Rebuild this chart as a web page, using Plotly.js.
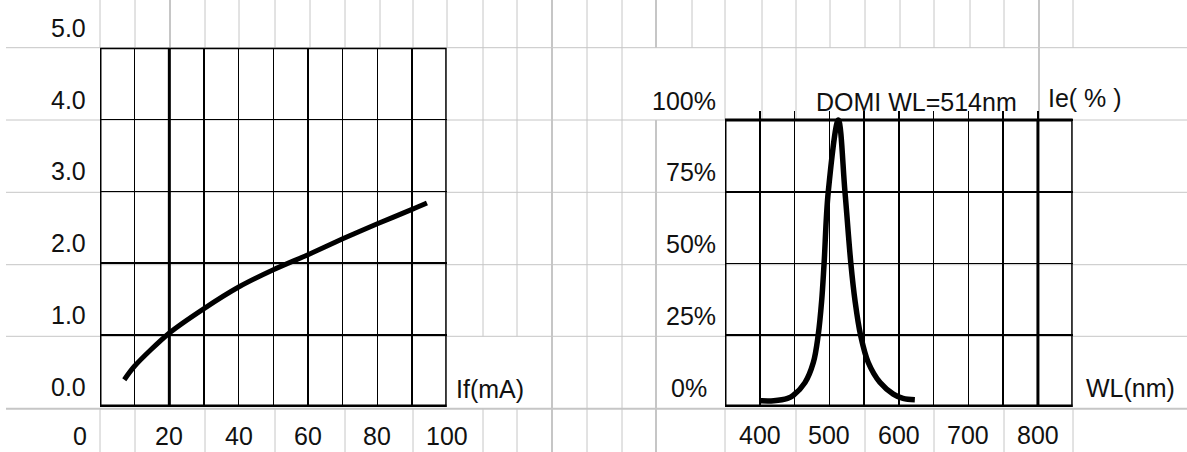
<!DOCTYPE html>
<html><head><meta charset="utf-8">
<script src="https://cdn.plot.ly/plotly-3.0.1.min.js"></script>
<style>html,body{margin:0;padding:0;background:#fff;overflow:hidden}#chart{width:1187px;height:452px;}</style>
</head><body><div id="chart"></div>
<script>
// ---- data ----
const currentTicks = [0, 20, 40, 60, 80, 100];
const currentTickLabels = ['0', '20', '40', '60', '80', '100'];
const intensityTicks = [0, 1, 2, 3, 4, 5];
const intensityTickLabels = ['0.0', '1.0', '2.0', '3.0', '4.0', '5.0'];
const forwardCurrent = [7, 10, 20, 30, 40, 50, 60, 70, 80, 90, 94.3];
const relIntensity = [0.38, 0.57, 1.03, 1.37, 1.67, 1.91, 2.12, 2.34, 2.55, 2.75, 2.84];

const wlTicks = [400, 500, 600, 700, 800];
const wlTickLabels = ['400', '500', '600', '700', '800'];
const pctTicks = [0, 0.25, 0.5, 0.75, 1];
const pctTickLabels = ['0%', '25%', '50%', '75%', '100%'];
const wavelength = [400, 420, 440, 448, 465, 477, 484, 489, 492.5, 498.5, 513, 522.5, 531, 537, 545, 556, 573, 592, 606, 623];
const spectrum = [0.022, 0.022, 0.03, 0.04, 0.085, 0.155, 0.25, 0.37, 0.5, 0.75, 1.0, 0.75, 0.5, 0.37, 0.25, 0.155, 0.085, 0.045, 0.03, 0.025];

const labelIf = 'If(mA)';
const labelWL = 'WL(nm)';
const labelIe = 'Ie( % )';
const labelDomi = 'DOMI WL=514nm';

// ---- layout helpers ----
const W = 1187, H = 452;
const px = x => x / W;
const py = y => 1 - y / H;
const FONT = {family: 'Liberation Sans, Arial, sans-serif', size: 25, color: '#111'};
const GRAY = '#c6c6c6';

// spreadsheet background grid
const shapes = [];
function gline(x0, y0, x1, y1, w) {
  shapes.push({type: 'line', xref: 'paper', yref: 'paper', layer: 'below',
    x0: px(x0), x1: px(x1), y0: py(y0), y1: py(y1), line: {color: GRAY, width: w || 1}});
}
const rowsY = [47.7, 120, 192.3, 264.7, 336.3, 408.7];
rowsY.forEach((y, i) => gline(6, y, W, y, i === 5 ? 2 : 1));
const thickCols = [170, 552, 656, 1039];
const topCols = [100,135,170,205,239,275,310,345,380,413,447,483,517,552,587,622,656,692,725,762,796,830,865,900,934,970,1004,1039,1073];
topCols.forEach(x => gline(x, 0, x, 47.7, thickCols.includes(x) ? 2 : 1));
[483, 517].forEach(x => gline(x, 47.7, x, 336.3));
[552, 587, 622].forEach(x => gline(x, 47.7, x, 408.7, x === 552 ? 2 : 1));
gline(656, 120, 656, 408.7, 2);
[725, 762, 796].forEach(x => gline(x, 47.7, x, 120));
gline(1039, 47.7, 1039, 120, 2);
[100,135,205,275,345,413,483,517,552,587,622,656,725,796,865,934,1004,1073].forEach(x => gline(x, 408.7, x, H, thickCols.includes(x) ? 2 : 1));

// chart frames
function frame(xr, yr, xa, xb, ya, yb, thickX) {
  shapes.push({type: 'rect', xref: xr, yref: yr, layer: 'between', x0: xa, x1: xb, y0: ya, y1: yb, line: {color: '#000', width: 3}});
  shapes.push({type: 'line', xref: xr, yref: yr, layer: 'between', x0: xa, x1: xb, y0: ya, y1: ya, line: {color: '#000', width: 5}});
  shapes.push({type: 'line', xref: xr, yref: yr, layer: 'between', x0: thickX, x1: thickX, y0: ya, y1: yb, line: {color: '#000', width: 3}});
}
frame('x', 'y', 0, 100, 0, 5, 20);
frame('x2', 'y2', 350, 850, 0, 1, 800);

// annotations
const ann = [];
function txt(o) { ann.push(Object.assign({showarrow: false, font: FONT, borderpad: 0}, o)); }
intensityTicks.forEach((v, i) => txt({xref: 'x domain', x: 0, xanchor: 'right', xshift: -13, yref: 'y', y: v, yanchor: 'middle', yshift: 20, text: intensityTickLabels[i]}));
currentTicks.forEach((v, i) => txt({xref: 'x', x: v, xanchor: 'center', xshift: i === 0 ? -20 : 0, yref: 'y', y: 0, yanchor: 'middle', yshift: -29, text: currentTickLabels[i]}));
pctTicks.forEach((v, i) => txt({xref: 'x2 domain', x: 0, xanchor: 'right', xshift: i === 0 ? -17 : -8, yref: 'y2', y: v, yanchor: 'middle', yshift: 19.5, text: pctTickLabels[i]}));
wlTicks.forEach((v, i) => txt({xref: 'x2', x: v, xanchor: 'center', yref: 'y2', y: 0, yanchor: 'middle', yshift: -28, text: wlTickLabels[i]}));
txt({xref: 'paper', x: px(455), xanchor: 'left', yref: 'paper', y: py(389), yanchor: 'middle', text: labelIf});
txt({xref: 'paper', x: px(1085), xanchor: 'left', yref: 'paper', y: py(388), yanchor: 'middle', text: labelWL});
txt({xref: 'paper', x: px(916.7), xanchor: 'center', yref: 'paper', y: py(101.5), yanchor: 'middle', text: labelDomi});
txt({xref: 'paper', x: px(1047), xanchor: 'left', yref: 'paper', y: py(98), yanchor: 'middle', text: labelIe});

const axBase = {showgrid: true, gridcolor: '#000', gridwidth: 1.6, zeroline: false, showticklabels: false, ticks: '', showline: false, fixedrange: true};
const layout = {
  width: W, height: H, margin: {l: 0, r: 0, t: 0, b: 0, pad: 0},
  paper_bgcolor: '#fff', plot_bgcolor: 'rgba(0,0,0,0)', showlegend: false,
  xaxis: Object.assign({}, axBase, {domain: [px(100), px(446.7)], range: [0, 100], tick0: 0, dtick: 10, anchor: 'y'}),
  yaxis: Object.assign({}, axBase, {domain: [py(407), py(47.7)], range: [0, 5], tick0: 0, dtick: 1, anchor: 'x'}),
  xaxis2: Object.assign({}, axBase, {domain: [px(725), px(1072.7)], range: [350, 850], tick0: 350, dtick: 50, anchor: 'y2'}),
  yaxis2: Object.assign({}, axBase, {domain: [py(407), py(120 - 0.03 * 287)], range: [0, 1.03], tick0: 0, dtick: 0.25, anchor: 'x2'}),
  shapes: shapes, annotations: ann
};
const traces = [
  {x: forwardCurrent, y: relIntensity, xaxis: 'x', yaxis: 'y', type: 'scatter', mode: 'lines', line: {color: '#000', width: 5, shape: 'spline', smoothing: 0.8}, hoverinfo: 'skip'},
  {x: wavelength, y: spectrum, xaxis: 'x2', yaxis: 'y2', type: 'scatter', mode: 'lines', line: {color: '#000', width: 5.5, shape: 'spline', smoothing: 1}, hoverinfo: 'skip'}
];
Plotly.newPlot('chart', traces, layout, {staticPlot: true, displayModeBar: false});
</script></body></html>
